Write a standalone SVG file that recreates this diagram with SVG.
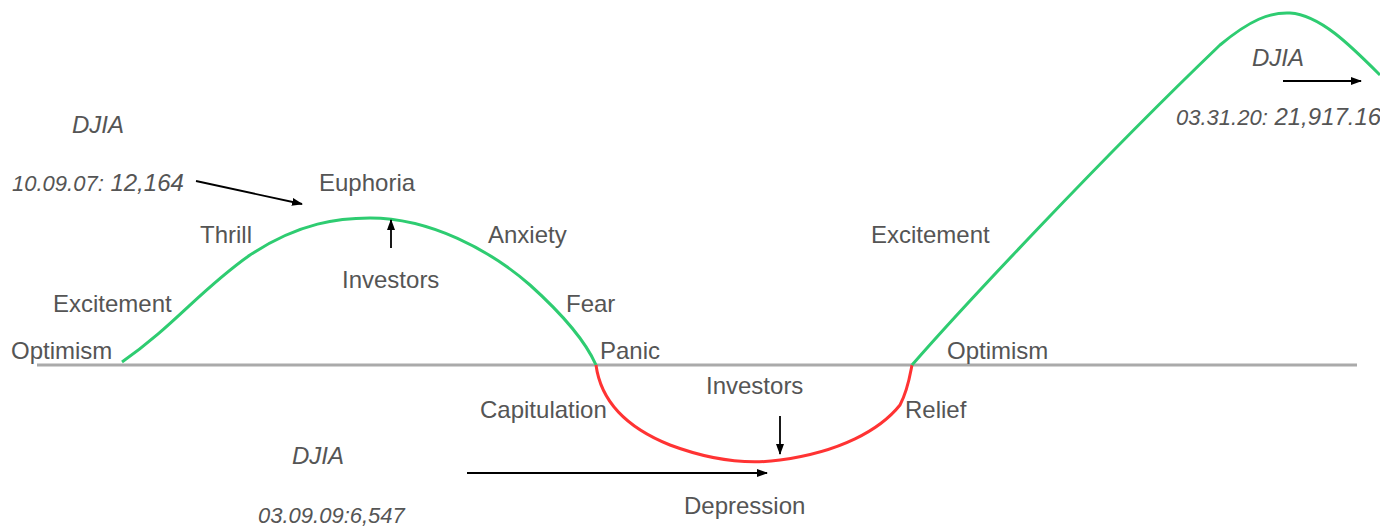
<svg xmlns="http://www.w3.org/2000/svg" width="1380" height="527" viewBox="0 0 1380 527">
<defs>
<marker id="ah" markerWidth="11" markerHeight="8" refX="10" refY="4" orient="auto" markerUnits="userSpaceOnUse">
<path d="M0,0 L11,4 L0,8 z" fill="#000"/>
</marker>
<style>
text{font-family:"Liberation Sans",Arial,sans-serif;font-size:24px;fill:#555}
.it{font-style:italic}
.sm{font-size:22px}
.conn{stroke:#000;stroke-width:1.8;fill:none;marker-end:url(#ah)}
.g{stroke:#2ecc71;stroke-width:3;fill:none}
.r{stroke:#f33;stroke-width:3;fill:none}
</style>
</defs>
<rect width="1380" height="527" fill="#fff"/>
<line x1="37" y1="365" x2="1357" y2="365" stroke="#aaa" stroke-width="3"/>
<path class="g" d="M122,362 C175,325 200,290 250,255 C300,222 340,218 370,218 C430,218 490,250 530,285 C560,312 585,340 596,365"/>
<path class="r" d="M596,365 C600,395 620,425 670,445 C710,460 745,465 780,460 C840,452 880,430 900,405 C908,390 910,375 912,365"/>
<path class="g" d="M912,365 C960,310 1100,160 1220,45 C1250,20 1270,12 1290,13 C1320,15 1350,45 1380,75"/>
<g id="connectors">
<line class="conn" x1="196" y1="181" x2="302" y2="204"/>
<line class="conn" x1="391" y1="248" x2="391" y2="220"/>
<line class="conn" x1="780" y1="416" x2="780" y2="454"/>
<line class="conn" x1="467" y1="473" x2="767" y2="473"/>
<line class="conn" x1="1283" y1="81" x2="1361" y2="81"/>
</g>
<g id="djia1"><text class="it" x="72" y="133">DJIA</text></g>
<g id="date1"><text class="it" x="12" y="191"><tspan class="sm">10.09.07:</tspan> 12,164</text></g>
<g id="euphoria"><text x="319" y="191">Euphoria</text></g>
<g id="thrill"><text x="200" y="243">Thrill</text></g>
<g id="anxiety"><text x="488" y="243">Anxiety</text></g>
<g id="investors1"><text x="342" y="288">Investors</text></g>
<g id="excitement1"><text x="53" y="312">Excitement</text></g>
<g id="fear"><text x="566" y="312">Fear</text></g>
<g id="optimism1"><text x="11" y="359">Optimism</text></g>
<g id="panic"><text x="600" y="359">Panic</text></g>
<g id="optimism2"><text x="947" y="359">Optimism</text></g>
<g id="excitement2"><text x="871" y="243">Excitement</text></g>
<g id="investors2"><text x="706" y="394">Investors</text></g>
<g id="capitulation"><text x="480" y="418">Capitulation</text></g>
<g id="relief"><text x="905" y="418">Relief</text></g>
<g id="djia2"><text class="it" x="292" y="464">DJIA</text></g>
<g id="depression"><text x="684" y="514">Depression</text></g>
<g id="date2"><text class="it sm" x="258" y="523">03.09.09:6,547</text></g>
<g id="djia3"><text class="it" x="1252" y="66">DJIA</text></g>
<g id="date3"><text class="it" x="1176" y="125"><tspan class="sm">03.31.20:</tspan> 21,917.16</text></g>
</svg>
